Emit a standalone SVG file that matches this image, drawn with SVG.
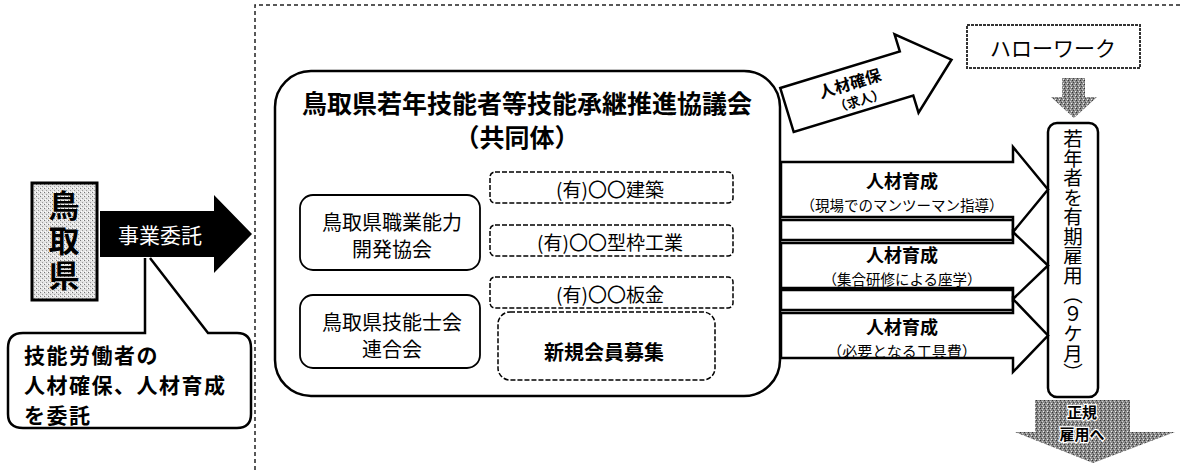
<svg xmlns="http://www.w3.org/2000/svg" width="1180" height="470" viewBox="0 0 1180 470">
<style>
text{font-family:"Noto Sans CJK JP","Noto Sans CJK SC",sans-serif;fill:#000;dominant-baseline:central;text-anchor:middle}
.b{font-weight:bold}
.ln{fill:none;stroke:#000;stroke-width:2.5}
.box{fill:#fff;stroke:#000;stroke-width:1.8}
.dbox{fill:#fff;stroke:#000;stroke-width:1.5;stroke-dasharray:5 2}
.arr{fill:#fff;stroke:#000;stroke-width:2.5;stroke-linejoin:miter}
</style>
<defs>
<pattern id="lite" width="4" height="4" patternUnits="userSpaceOnUse">
<rect width="4" height="4" fill="#e2e2e2"/>
<rect x="0" y="0" width="1" height="1" fill="#777"/>
<rect x="2" y="2" width="1" height="1" fill="#999"/>
<rect x="3" y="0" width="1" height="1" fill="#fff"/>
<rect x="1" y="3" width="1" height="1" fill="#fff"/>
</pattern>
<pattern id="dark" width="4" height="4" patternUnits="userSpaceOnUse">
<rect width="4" height="4" fill="#8a8a8a"/>
<rect x="0" y="0" width="1" height="1" fill="#333"/>
<rect x="2" y="1" width="1" height="1" fill="#d0d0d0"/>
<rect x="1" y="2" width="1" height="1" fill="#444"/>
<rect x="3" y="3" width="1" height="1" fill="#eee"/>
</pattern>
</defs>
<rect width="1180" height="470" fill="#fff"/>

<g id="frame">
<path d="M255,470 V5 H1180" fill="none" stroke="#222" stroke-width="1.5" stroke-dasharray="4 3"/>
</g>

<g id="tottori">
<rect x="32" y="183" width="65" height="117" fill="url(#lite)" stroke="#000" stroke-width="3"/>
<text x="64" y="190" class="b" font-size="31" style="writing-mode:vertical-rl;text-anchor:start;letter-spacing:4px">鳥取県</text>
</g>

<g id="connectors">
<polygon points="100,211 214,211 214,195 252,234 214,273 214,257 100,257" fill="#000"/>
<text x="160" y="234" font-size="21" style="fill:#fff">事業委託</text>
<rect x="781" y="220" width="232" height="20" class="arr"/>
<rect x="781" y="290" width="232" height="20" class="arr"/>
<polygon class="arr" points="781,162 1013,162 1013,147 1048,189.5 1013,232 1013,217 781,217"/>
<polygon class="arr" points="781,243 1013,243 1013,232 1048,265.5 1013,299 1013,288 781,288"/>
<polygon class="arr" points="781,313 1013,313 1013,299 1048,335.5 1013,372 1013,358 781,358"/>
<text x="902" y="180"><tspan class="b" font-size="18">人材育成</tspan><tspan x="902" dy="24" font-size="14.5">（現場でのマンツーマン指導）</tspan></text>
<text x="902" y="254"><tspan class="b" font-size="18">人材育成</tspan><tspan x="902" dy="24" font-size="14.5">（集合研修による座学）</tspan></text>
<text x="902" y="326"><tspan class="b" font-size="18">人材育成</tspan><tspan x="902" dy="24" font-size="15">（必要となる工具費）</tspan></text>
<g transform="translate(787,110) rotate(-17)">
<polygon class="arr" points="0,-23 125,-23 125,-41 172,0 125,41 125,23 0,23"/>
<text x="68" y="-8" class="b" font-size="16">人材確保<tspan x="72" dy="19" font-size="13">（求人）</tspan></text>
</g>
<polygon points="1062,78 1085,78 1085,97 1097,97 1074,118 1051,97 1062,97" fill="url(#dark)"/>
<polygon points="1035,400 1130,400 1130,432 1175,432 1093,463 1015,432 1035,432" fill="url(#dark)"/>
<text x="1082" y="411" class="b" font-size="15" stroke="#fff" stroke-width="2.5" paint-order="stroke">正規<tspan x="1082" dy="22">雇用へ</tspan></text>
</g>

<g id="callout">
<path class="ln" d="M145,258 V333 H23 Q8,333 8,348 V414 Q8,428 23,428 H237 Q251,428 251,414 V348 Q251,333 237,333 H208 L150,258" fill="#fff"/>
<text x="24" y="354" class="b" font-size="21" style="text-anchor:start;letter-spacing:1.5px">技能労働者の<tspan x="24" dy="30">人材確保、人材育成</tspan><tspan x="24" dy="30">を委託</tspan></text>
</g>

<g id="consortium">
<rect x="275" y="71" width="505" height="325" rx="36" class="ln" fill="#fff"/>
<text x="527" y="102" class="b" font-size="25">鳥取県若年技能者等技能承継推進協議会<tspan x="517" dy="34">（共同体）</tspan></text>
</g>

<g id="noryoku">
<rect x="300" y="195" width="180" height="75" rx="13" class="box"/>
<text x="392" y="221" font-size="20">鳥取県職業能力<tspan x="392" dy="27">開発協会</tspan></text>
</g>

<g id="ginoushi">
<rect x="300" y="295" width="180" height="73" rx="13" class="box"/>
<text x="392" y="321" font-size="20">鳥取県技能士会<tspan x="392" dy="27">連合会</tspan></text>
</g>

<g id="kenchiku">
<rect x="490" y="172" width="243" height="31" rx="5" class="dbox"/>
<text x="610" y="188" font-size="19">(有)〇〇建築</text>
</g>
<g id="katawaku">
<rect x="490" y="225" width="243" height="31" rx="5" class="dbox"/>
<text x="610" y="241" font-size="19">(有)〇〇型枠工業</text>
</g>
<g id="bankin">
<rect x="490" y="277" width="243" height="31" rx="5" class="dbox"/>
<text x="610" y="293" font-size="19">(有)〇〇板金</text>
</g>
<g id="shinki">
<rect x="498" y="312" width="217" height="68" rx="12" class="dbox"/>
<text x="604" y="351" class="b" font-size="20">新規会員募集</text>
</g>

<g id="hellowork">
<rect x="967" y="25" width="173" height="43" fill="#fff" stroke="#333" stroke-width="2" stroke-dasharray="3 1"/>
<text x="1053" y="47" font-size="21">ハローワーク</text>
</g>

<g id="koyou">
<rect x="1048" y="123" width="50" height="274" rx="9" class="ln" fill="#fff"/>
<text x="1073" y="129" font-size="19.5" style="writing-mode:vertical-rl;text-anchor:start;dominant-baseline:central">若年者を有期雇用（９ケ月）</text>
</g>
</svg>
